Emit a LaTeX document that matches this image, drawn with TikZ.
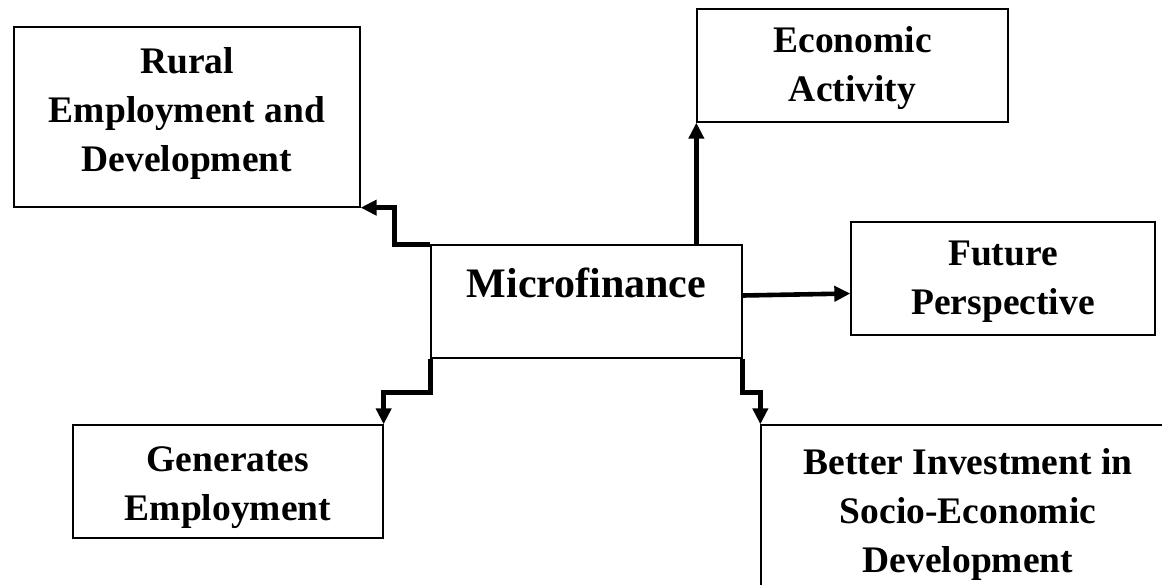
\documentclass[tikz,border=0pt]{standalone}
\usepackage{fontspec}
\setmainfont{Liberation Serif}
\usetikzlibrary{arrows.meta,calc}

\begin{document}
\begin{tikzpicture}[x=1pt,y=-1pt,
  box/.style={draw, line width=1.3pt, inner sep=0pt},
  txt/.style={inner sep=0pt, align=center,
              font=\bfseries\fontsize{37.5}{49}\selectfont},
  conn/.style={line width=4.6pt, -{Triangle[length=16pt,width=15pt]}}]
  \clip (0,0) rectangle (1162,584);
  \fill[white] (0,0) rectangle (1162,584);

  % central box and its label
  \node[box, minimum width=311pt, minimum height=113pt] (micro) at (586.5,301.5) {};
  \node[anchor=base, font=\bfseries\fontsize{42}{50}\selectfont] (microlabel) at (586.5,297) {Microfinance};

  % surrounding boxes
  \node[box, minimum width=346pt, minimum height=180pt] (rural) at (187,117) {};
  \node[box, minimum width=311pt, minimum height=113pt] (econ) at (852.5,65.5) {};
  \node[box, minimum width=304pt, minimum height=113pt] (future) at (1003,278.5) {};
  \node[box, minimum width=310pt, minimum height=113pt] (gen) at (228,481.5) {};
  \node[box, minimum width=414pt, minimum height=180pt] (better) at (968,515) {};

  % box texts
  \node[txt] (ruraltext) at ($(rural.center)+(0,-4)$) {Rural\\Employment and\\Development};
  \node[txt] (econtext) at ($(econ.center)+(0,3)$) {Economic\\Activity};
  \node[txt] (futuretext) at ($(future.center)+(0,3)$) {Future\\Perspective};
  \node[txt] (gentext) at ($(gen.center)+(0,6)$) {Generates\\Employment};
  \node[txt] (bettertext) at ($(better.center)+(0,-1)$) {Better Investment in\\Socio-Economic\\Development};

  % connectors
  \draw[conn] (micro.north west) -- ++(-36,0) |- (rural.south east);
  \draw[conn] (econ.south west |- micro.north) -- (econ.south west);
  \draw[conn] ($(micro.east)+(0,-6)$) -- ($(future.west)+(0,15)$);
  \draw[conn] (micro.south west) -- ++(0,34) -| (gen.north east);
  \draw[conn] (micro.south east) -- ++(0,34) -| (better.north west);
\end{tikzpicture}
\end{document}
